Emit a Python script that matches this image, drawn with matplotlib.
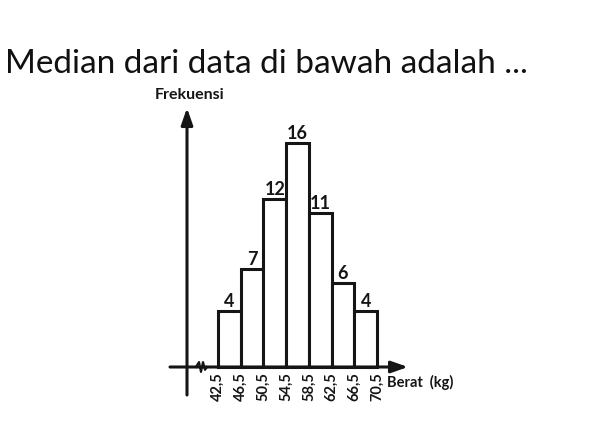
import matplotlib
matplotlib.use("Agg")
import matplotlib.pyplot as plt

# Data
edges = [42.5, 46.5, 50.5, 54.5, 58.5, 62.5, 66.5, 70.5]
tick_labels = ["42,5", "46,5", "50,5", "54,5", "58,5", "62,5", "66,5", "70,5"]
freqs = [4, 7, 12, 16, 11, 6, 4]
title = "Median dari data di bawah adalah ..."
ylabel = "Frekuensi"
xlabel = "Berat  (kg)"

plt.rcParams['font.family'] = ['Lato', 'DejaVu Sans']

fig = plt.figure(figsize=(6.05, 4.33), dpi=100)
ax = fig.add_axes([0, 0, 1, 1])
px = 28 / 159.0          # data units per pixel (x)
py = 1 / 14.0            # data units per pixel (y)
ax.set_xlim(42.5 - 218 * px, 42.5 + (605 - 218) * px)
ax.set_ylim(-(433 - 367) * py, 367 * py)
ax.axis('off')

width = edges[1] - edges[0]
ax.bar(edges[:-1], freqs, width=width, align='edge', facecolor='white',
       edgecolor='#151515', linewidth=2.2, zorder=3)
for e, f in zip(edges[:-1], freqs):
    ax.text(e + width / 2, f + 0.1, str(f), ha='center', va='bottom',
            fontsize=13, fontweight='bold', color='#151515', zorder=4)

# axes with arrows
yax_x = 42.5 - 31 * px
x_left = 42.5 - 48 * px
x_end = 42.5 + (408 - 218) * px
ax.annotate('', xy=(x_end, 0), xytext=(x_left, 0),
            arrowprops=dict(arrowstyle='-|>,head_length=1.0,head_width=0.35',
                            color='#151515', lw=2.2, shrinkA=0, shrinkB=0))
ax.annotate('', xy=(yax_x, (367 - 108) * py), xytext=(yax_x, -(395 - 367) * py),
            arrowprops=dict(arrowstyle='-|>,head_length=1.0,head_width=0.35',
                            color='#151515', lw=2.2, shrinkA=0, shrinkB=0))
# zigzag break
zx = [42.5 - 22 * px, 42.5 - 19 * px, 42.5 - 17 * px, 42.5 - 15 * px, 42.5 - 13 * px, 42.5 - 11 * px]
zy = [0, 0.35, -0.35, 0.35, -0.2, 0]
ax.plot(zx, zy, color='#151515', lw=1.6, zorder=5)

for e, lab in zip(edges, tick_labels):
    ax.text(e, -0.35, lab, rotation=90, ha='center', va='top',
            fontsize=10.5, fontweight='bold', color='#151515')

ax.text(yax_x - 32 * px, (367 - 95) * py, ylabel, ha='left', va='center',
        fontsize=11.5, fontweight='bold', color='#151515')
ax.text(42.5 + (387 - 218) * px, -(382 - 367) * py, xlabel, ha='left', va='center',
        fontsize=10.5, fontweight='bold', color='#151515')

fig.text(5 / 605, 1 - 64 / 433, title, ha='left', va='center',
         fontsize=24, color='#111111')

fig.savefig('out.png', dpi=100)
